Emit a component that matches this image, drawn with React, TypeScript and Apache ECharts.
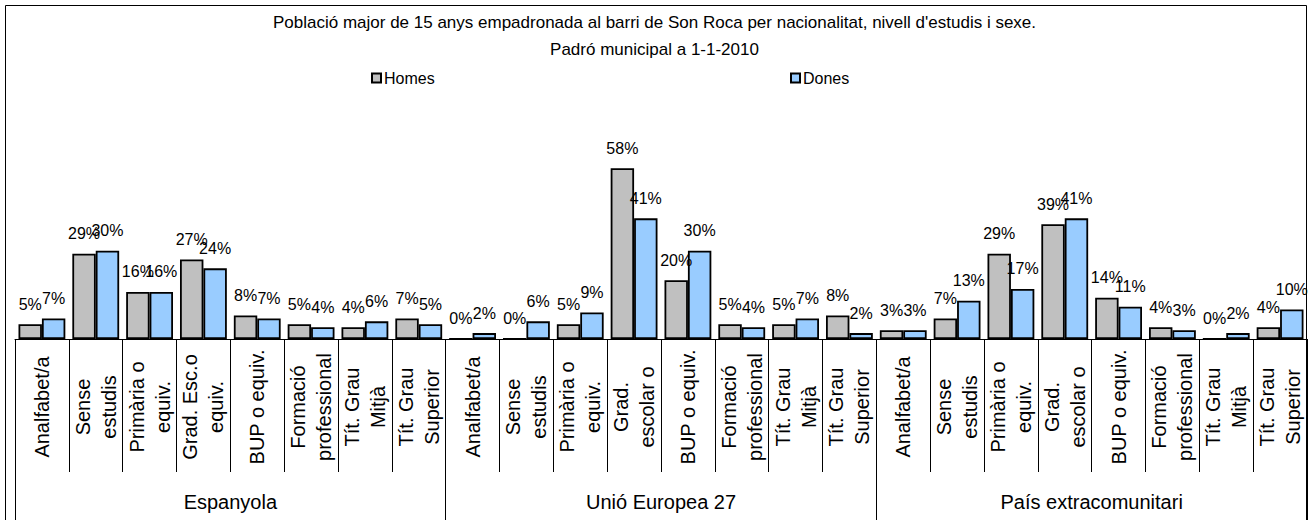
import React, { useEffect, useRef } from "react";
import * as echarts from "echarts";

const titleText =
  "Població major de 15 anys empadronada al barri de Son Roca per nacionalitat, nivell d'estudis i sexe.\nPadró municipal a 1-1-2010";

const groups = ["Espanyola", "Unió Europea 27", "País extracomunitari"];

const levelsEsp = [
  "Analfabet/a",
  "Sense\nestudis",
  "Primària o\nequiv.",
  "Grad. Esc.o\nequiv.",
  "BUP o equiv.",
  "Formació\nprofessional",
  "Tít. Grau\nMitjà",
  "Tít. Grau\nSuperior",
];
const levelsOther = [
  "Analfabet/a",
  "Sense\nestudis",
  "Primària o\nequiv.",
  "Grad.\nescolar o",
  "BUP o equiv.",
  "Formació\nprofessional",
  "Tít. Grau\nMitjà",
  "Tít. Grau\nSuperior",
];

const homesEsp = [5, 29, 16, 27, 8, 5, 4, 7];
const donesEsp = [7, 30, 16, 24, 7, 4, 6, 5];
const homesUE = [0, 0, 5, 58, 20, 5, 5, 8];
const donesUE = [2, 6, 9, 41, 30, 4, 7, 2];
const homesExt = [3, 7, 29, 39, 14, 4, 0, 4];
const donesExt = [3, 13, 17, 41, 11, 3, 2, 10];

const categories = [...levelsEsp, ...levelsOther, ...levelsOther];
const homes = [...homesEsp, ...homesUE, ...homesExt];
const dones = [...donesEsp, ...donesUE, ...donesExt];

const FONT = 'Arial, "Liberation Sans", sans-serif';

export default function App() {
  const ref = useRef<HTMLDivElement>(null);
  useEffect(() => {
    document.body.style.margin = "0";
    const chart = echarts.init(ref.current!, undefined, { renderer: "svg" });
    const labelStyle = {
      show: true,
      position: "top" as const,
      distance: 12,
      formatter: "{c}%",
      fontSize: 16,
      color: "#000",
      fontFamily: FONT,
    };
    chart.setOption({
      animation: false,
      backgroundColor: "#fff",
      textStyle: { fontFamily: FONT },
      title: {
        text: titleText,
        left: "center",
        top: 4,
        textStyle: {
          fontSize: 17,
          fontWeight: "normal",
          color: "#000",
          lineHeight: 27,
          fontFamily: FONT,
        },
      },
      legend: [
        {
          data: ["Homes"],
          left: 366,
          top: 65,
          icon: "rect",
          itemWidth: 9,
          itemHeight: 9,
          itemGap: 5,
          textStyle: { fontSize: 16, color: "#000", fontFamily: FONT, padding: [0, 0, 0, -2] },
        },
        {
          data: ["Dones"],
          left: 785,
          top: 65,
          icon: "rect",
          itemWidth: 9,
          itemHeight: 9,
          textStyle: { fontSize: 16, color: "#000", fontFamily: FONT, padding: [0, 0, 0, -2] },
        },
      ],
      graphic: [
        {
          type: "rect",
          shape: { x: 5.5, y: 5.5, width: 1301, height: 600 },
          style: { fill: "none", stroke: "#000", lineWidth: 1 },
          silent: true,
        },
      ],
      grid: { left: 15, right: 2, top: 133, bottom: 181 },
      xAxis: [
        {
          type: "category",
          data: categories,
          position: "bottom",
          axisLine: { show: true, lineStyle: { color: "#000", width: 1 } },
          axisTick: {
            show: true,
            interval: 0,
            length: 133,
            lineStyle: { color: "#000", width: 1 },
          },
          axisLabel: {
            interval: 0,
            rotate: 90,
            align: "center",
            verticalAlign: "middle",
            margin: 68,
            fontSize: 20,
            lineHeight: 26,
            color: "#000",
            fontFamily: FONT,
          },
          splitLine: { show: false },
        },
        {
          type: "category",
          data: groups,
          position: "bottom",
          offset: 0,
          axisLine: { show: false },
          axisTick: {
            show: true,
            interval: 0,
            length: 200,
            lineStyle: { color: "#000", width: 1 },
          },
          axisLabel: {
            interval: 0,
            margin: 163,
            verticalAlign: "middle",
            fontSize: 20,
            color: "#000",
            fontFamily: FONT,
          },
          splitLine: { show: false },
        },
      ],
      yAxis: {
        type: "value",
        min: 0,
        max: 70,
        show: false,
      },
      series: [
        {
          name: "Homes",
          type: "bar",
          xAxisIndex: 0,
          data: homes,
          barGap: "0%",
          barCategoryGap: "13%",
          itemStyle: { color: "#C0C0C0", borderColor: "#000", borderWidth: 1.8 },
          label: labelStyle,
        },
        {
          name: "Dones",
          type: "bar",
          xAxisIndex: 0,
          data: dones,
          barGap: "0%",
          barCategoryGap: "13%",
          itemStyle: { color: "#99CCFF", borderColor: "#000", borderWidth: 1.8 },
          label: labelStyle,
        },
      ],
    });
    return () => chart.dispose();
  }, []);
  return <div ref={ref} style={{ width: 1309, height: 520 }} />;
}
